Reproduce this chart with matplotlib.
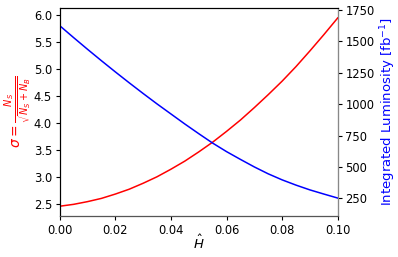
import matplotlib
matplotlib.use("Agg")
import matplotlib.pyplot as plt
from matplotlib.ticker import MultipleLocator

# values (steps of 0.005 in H-hat)
h_hat = [0.000, 0.005, 0.010, 0.015, 0.020, 0.025, 0.030, 0.035, 0.040, 0.045,
         0.050, 0.055, 0.060, 0.065, 0.070, 0.075, 0.080, 0.085, 0.090, 0.095, 0.100]
significance = [2.465, 2.50, 2.55, 2.61, 2.69, 2.78, 2.89, 3.01, 3.15, 3.30,
                3.47, 3.65, 3.85, 4.06, 4.29, 4.53, 4.78, 5.05, 5.34, 5.64, 5.95]
luminosity = [1625, 1530, 1437, 1346, 1257, 1170, 1085, 1002, 922, 842,
              765, 690, 622, 560, 500, 445, 397, 355, 317, 284, 252]

fig, ax1 = plt.subplots(figsize=(3.98, 2.57), dpi=100)
fig.subplots_adjust(left=0.15, right=0.8485, top=0.969, bottom=0.1595)

ax1.plot(h_hat, significance, color="red", lw=1.1)
ax1.set_xlim(0, 0.1)
ax1.set_ylim(2.284, 6.135)
ax1.yaxis.set_major_locator(MultipleLocator(0.5))
ax1.xaxis.set_major_locator(MultipleLocator(0.02))
ax1.tick_params(labelsize=8.3, length=3, pad=2.5)
ax1.set_xlabel(r"$\hat{H}$", fontsize=9.5, labelpad=-2)
ax1.set_ylabel(r"$\sigma = \frac{N_S}{\sqrt{N_S + N_B}}$", color="red", fontsize=10, labelpad=0)

ax2 = ax1.twinx()
ax2.plot(h_hat, luminosity, color="blue", lw=1.1)
ax2.set_ylim(109, 1766)
ax2.yaxis.set_major_locator(MultipleLocator(250))
ax2.tick_params(labelsize=8.3, length=3, pad=2.5)
ax2.set_ylabel(r"Integrated Luminosity [fb$^{-1}$]", color="blue", fontsize=9.5, labelpad=3)
ax2.spines["right"].set_color("#888888")
ax2.spines["bottom"].set_color("#555555")

fig.savefig("out.png", dpi=100)
